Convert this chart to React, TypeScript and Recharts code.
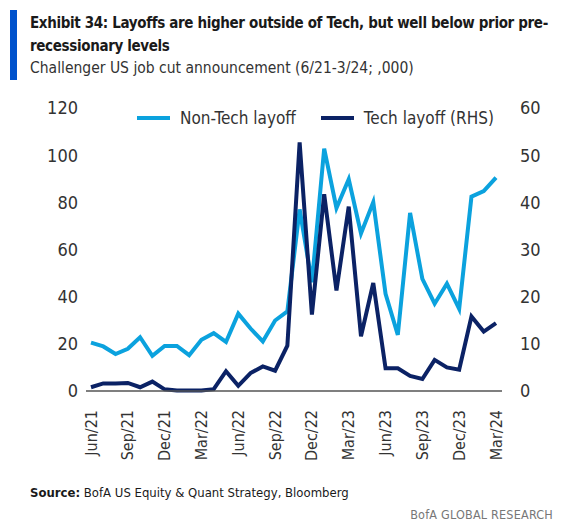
import React from 'react';
import { LineChart, Line, XAxis, YAxis } from 'recharts';

// Monthly, Jun/21 - Mar/24
const months = [
  'Jun/21', 'Jul/21', 'Aug/21', 'Sep/21', 'Oct/21', 'Nov/21', 'Dec/21',
  'Jan/22', 'Feb/22', 'Mar/22', 'Apr/22', 'May/22', 'Jun/22', 'Jul/22', 'Aug/22', 'Sep/22', 'Oct/22', 'Nov/22', 'Dec/22',
  'Jan/23', 'Feb/23', 'Mar/23', 'Apr/23', 'May/23', 'Jun/23', 'Jul/23', 'Aug/23', 'Sep/23', 'Oct/23', 'Nov/23', 'Dec/23',
  'Jan/24', 'Feb/24', 'Mar/24',
];
const nonTech = [
  20.5, 18.9, 15.7, 17.9, 22.8, 14.9, 19.1,
  19.1, 15.2, 21.7, 24.5, 20.8, 32.8, 26.5, 21.0, 29.9, 33.8, 77.0, 46.1,
  102.8, 77.6, 89.8, 66.8, 80.1, 41.2, 23.8, 75.5, 47.5, 37.0, 45.5, 34.8,
  82.4, 84.8, 90.5,
];
const tech = [
  0.8, 1.6, 1.6, 1.7, 0.8, 2.0, 0.35,
  0.1, 0.1, 0.1, 0.4, 4.2, 1.1, 3.8, 5.2, 4.3, 9.6, 52.7, 16.2,
  41.7, 21.3, 39.1, 11.6, 22.9, 4.8, 4.8, 3.2, 2.55, 6.6, 5.0, 4.5,
  15.8, 12.6, 14.4,
];
const leftTicks = [0, 20, 40, 60, 80, 100, 120];
const rightTicks = [0, 10, 20, 30, 40, 50, 60];
const xTicks = ['Jun/21', 'Sep/21', 'Dec/21', 'Mar/22', 'Jun/22', 'Sep/22', 'Dec/22', 'Mar/23', 'Jun/23', 'Sep/23', 'Dec/23', 'Mar/24'];

const data = months.map((m, i) => ({ month: m, nonTech: nonTech[i], tech: tech[i] }));

const FONT = "'Liberation Sans Narrow', 'DejaVu Sans Condensed', 'Roboto', sans-serif";
const LIGHT = '#0ba2de';
const NAVY = '#0b2265';
const TEXT = '#333333';

const RotatedTick = (props: any) => {
  const { x, y, payload } = props;
  return (
    <text
      x={x}
      y={y + 11}
      transform={`rotate(-90, ${x}, ${y + 11})`}
      textAnchor="end"
      dominantBaseline="central"
      fontSize={16}
      fill={TEXT}
      fontFamily={FONT}
    >
      {payload.value}
    </text>
  );
};

const App: React.FC = () => {
  return (
    <div style={{ position: 'absolute', left: 0, top: 0, width: 575, height: 525, background: '#fff', fontFamily: FONT, overflow: 'hidden' }}>
      <div style={{ position: 'absolute', left: 10, top: 10, width: 7, height: 70, background: '#0052cc' }} />
      <div style={{ position: 'absolute', left: 30, top: 12, fontSize: 15, fontWeight: 700, lineHeight: '23px', color: '#1a1a1a', whiteSpace: 'nowrap', letterSpacing: -0.35 }}>
        Exhibit 34: Layoffs are higher outside of Tech, but well below prior pre-
        <br />
        recessionary levels
      </div>
      <div style={{ position: 'absolute', left: 30, top: 59, fontSize: 15.5, color: TEXT }}>
        Challenger US job cut announcement (6/21-3/24; ,000)
      </div>

      {/* legend */}
      <div style={{ position: 'absolute', left: 137, top: 108, display: 'flex', alignItems: 'center', fontSize: 17, color: TEXT }}>
        <span style={{ display: 'inline-block', width: 33, height: 4, background: LIGHT, marginRight: 10 }} />
        <span style={{ marginRight: 25 }}>Non-Tech layoff</span>
        <span style={{ display: 'inline-block', width: 33, height: 4, background: NAVY, marginRight: 10 }} />
        <span>Tech layoff (RHS)</span>
      </div>

      <div style={{ position: 'absolute', left: 0, top: 95 }}>
        <LineChart width={575} height={380} data={data} margin={{ top: 13, right: 0, left: 0, bottom: 0 }}>
          <XAxis
            dataKey="month"
            ticks={xTicks}
            interval={0}
            height={84}
            tick={<RotatedTick />}
            tickLine={false}
            axisLine={{ stroke: '#555', strokeWidth: 1.5 }}
            padding={{ left: 5, right: 6 }}
          />
          <YAxis
            yAxisId="left"
            domain={[0, 120]}
            ticks={leftTicks}
            width={86}
            axisLine={false}
            tickLine={false}
            tickSize={0}
            tickMargin={8}
            tick={{ fill: TEXT, fontSize: 18, fontFamily: FONT }}
          />
          <YAxis
            yAxisId="right"
            orientation="right"
            domain={[0, 60]}
            ticks={rightTicks}
            width={73}
            axisLine={false}
            tickLine={false}
            tickSize={0}
            tickMargin={18}
            tick={{ fill: TEXT, fontSize: 18, fontFamily: FONT, textAnchor: 'start' }}
          />
          <Line
            yAxisId="left"
            type="linear"
            dataKey="nonTech"
            stroke={LIGHT}
            strokeWidth={4}
            dot={false}
            isAnimationActive={false}
          />
          <Line
            yAxisId="right"
            type="linear"
            dataKey="tech"
            stroke={NAVY}
            strokeWidth={4}
            dot={false}
            isAnimationActive={false}
          />
        </LineChart>
      </div>

      <div style={{ position: 'absolute', left: 30, top: 485, fontSize: 13, color: '#1a1a1a' }}>
        <b>Source:</b> BofA US Equity &amp; Quant Strategy, Bloomberg
      </div>
      <div style={{ position: 'absolute', right: 22, top: 507, fontSize: 12.5, lineHeight: '15px', color: '#777', letterSpacing: 0.2 }}>
        BofA GLOBAL RESEARCH
      </div>
    </div>
  );
};

export default App;
